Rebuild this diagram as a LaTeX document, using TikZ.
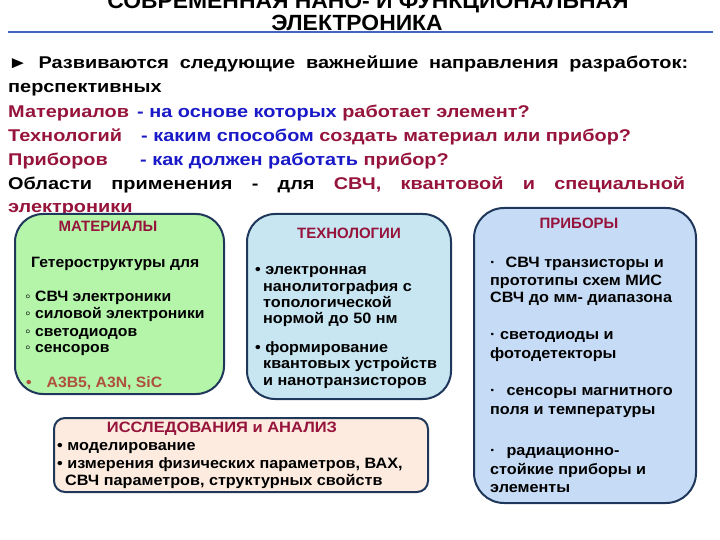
\documentclass[tikz,border=0pt]{standalone}
\usepackage{fontspec}
\setmainfont{Liberation Sans}
\newfontfamily\titlefont[FakeStretch=1.04]{Liberation Sans}
\newfontfamily\bodyfont[FakeStretch=1.17]{Liberation Sans}
\newfontfamily\panelfont[FakeStretch=1.08]{Liberation Sans}
\newfontfamily\matfont[FakeStretch=1.05]{Liberation Sans}
\newfontfamily\resheadfont[FakeStretch=1.1]{Liberation Sans}
\definecolor{dred}{RGB}{150,20,60}
\definecolor{dblue}{RGB}{25,25,200}
\definecolor{edgecol}{RGB}{30,55,90}
\definecolor{rulecol}{RGB}{65,100,190}
\definecolor{gfill}{RGB}{180,245,170}
\definecolor{tfill}{RGB}{200,230,242}
\definecolor{pfill}{RGB}{198,220,246}
\definecolor{rfill}{RGB}{252,235,222}
\definecolor{brn}{RGB}{175,80,60}
\tikzset{
  titletxt/.style={font=\titlefont\bfseries\fontsize{22}{22}\selectfont, anchor=base, inner sep=0},
  bodytxt/.style={font=\bodyfont\bfseries\fontsize{17}{20}\selectfont, anchor=base west, inner sep=0},
  boxtxt/.style={font=\panelfont\bfseries\fontsize{15}{17}\selectfont, anchor=base west, inner sep=0},
  mattxt/.style={font=\matfont\bfseries\fontsize{15}{17}\selectfont, anchor=base west, inner sep=0},
  boxhead/.style={font=\bfseries\fontsize{15}{17}\selectfont, anchor=base, inner sep=0, text=dred},
  panel/.style={draw=edgecol, line width=2pt, anchor=north west, inner sep=0},
}
\begin{document}
\begin{tikzpicture}[x=1pt,y=-1pt]
\useasboundingbox (0,0) rectangle (720,540);
% title
\node[titletxt] (t1) at (368,9) {СОВРЕМЕННАЯ НАНО- И ФУНКЦИОНАЛЬНАЯ};
\node[titletxt] (t2) at (357,31) {ЭЛЕКТРОНИКА};
\coordinate (rl) at (8,32);
\coordinate (rr) at (713,32);
\draw[rulecol, line width=2.2pt] (rl) -- (rr);
% body text
\node[bodytxt] (b1) at (8,69) {\makebox[680pt][s]{► Развиваются следующие важнейшие направления разработок:}};
\node[bodytxt] (b2) at (8,93) {перспективных};
\node[bodytxt] (b3) at (8,118) {\makebox[129pt][l]{\textcolor{dred}{Материалов}}\textcolor{dblue}{-\ на основе которых} \textcolor{dred}{работает элемент?}};
\node[bodytxt] (b4) at (8,142) {\makebox[133pt][l]{\textcolor{dred}{Технологий}}\textcolor{dblue}{-\ каким способом} \textcolor{dred}{создать материал или прибор?}};
\node[bodytxt] (b5) at (8,166) {\makebox[132pt][l]{\textcolor{dred}{Приборов}}\textcolor{dblue}{-\ как должен работать} \textcolor{dred}{прибор?}};
\node[bodytxt] (b6) at (8,190) {\makebox[677pt][s]{Области применения - для \textcolor{dred}{СВЧ, квантовой и специальной}}};
\node[bodytxt, text=dred] (b7) at (8,212) {электроники};
% panels
\node[panel, fill=gfill, rounded corners=28pt, minimum width=209pt, minimum height=180pt] (mat) at (14,213) {};
\node[panel, fill=tfill, rounded corners=28pt, minimum width=204pt, minimum height=185pt] (tech) at (246,213) {};
\node[panel, fill=pfill, rounded corners=30pt, minimum width=222pt, minimum height=295pt] (dev) at (473,207) {};
\node[panel, fill=rfill, rounded corners=11pt, minimum width=374pt, minimum height=74pt] (res) at (53,417) {};
% materials
\node[boxhead] (m0) at (108,231) {МАТЕРИАЛЫ};
\node[mattxt] (m1) at (31,267) {Гетероструктуры для};
\node[mattxt] (m2) at (25,301) {◦ СВЧ электроники};
\node[mattxt] (m3) at (25,318) {◦ силовой электроники};
\node[mattxt] (m4) at (25,336) {◦ светодиодов};
\node[mattxt] (m5) at (25,352) {◦ сенсоров};
\node[mattxt, text=brn] (m6) at (26,387) {•\hspace{15pt}A3B5, A3N, SiC};
% technologies
\node[boxhead] (k0) at (349,238) {ТЕХНОЛОГИИ};
\node[boxtxt] (k1) at (255,274) {• электронная};
\node[boxtxt] (k2) at (263,291) {нанолитография с};
\node[boxtxt] (k3) at (263,307) {топологической};
\node[boxtxt] (k4) at (263,323) {нормой до 50 нм};
\node[boxtxt] (k5) at (255,352) {• формирование};
\node[boxtxt] (k6) at (263,368) {квантовых устройств};
\node[boxtxt] (k7) at (263,385) {и нанотранзисторов};
% devices
\node[boxhead] (d0) at (579,229) {ПРИБОРЫ};
\node[boxtxt] (d1) at (490,267) {·\hspace{10pt}СВЧ транзисторы и};
\node[boxtxt] (d2) at (490,285) {прототипы схем МИС};
\node[boxtxt] (d3) at (490,302) {СВЧ до мм- диапазона};
\node[boxtxt] (d4) at (490,339) {· светодиоды и};
\node[boxtxt] (d5) at (490,358) {фотодетекторы};
\node[boxtxt] (d6) at (490,395) {·\hspace{11pt}сенсоры магнитного};
\node[boxtxt] (d7) at (490,414) {поля и температуры};
\node[boxtxt] (d8) at (490,455) {·\hspace{11pt}радиационно-};
\node[boxtxt] (d9) at (490,474) {стойкие приборы и};
\node[boxtxt] (d10) at (490,492) {элементы};
% research
\node[boxhead, font=\resheadfont\bfseries\fontsize{15}{17}\selectfont] (r0) at (222,432) {ИССЛЕДОВАНИЯ и АНАЛИЗ};
\node[boxtxt] (r1) at (57,450) {• моделирование};
\node[boxtxt] (r2) at (57,468) {• измерения физических параметров, ВАХ,};
\node[boxtxt] (r3) at (65,485) {СВЧ параметров, структурных свойств};
\end{tikzpicture}
\end{document}
